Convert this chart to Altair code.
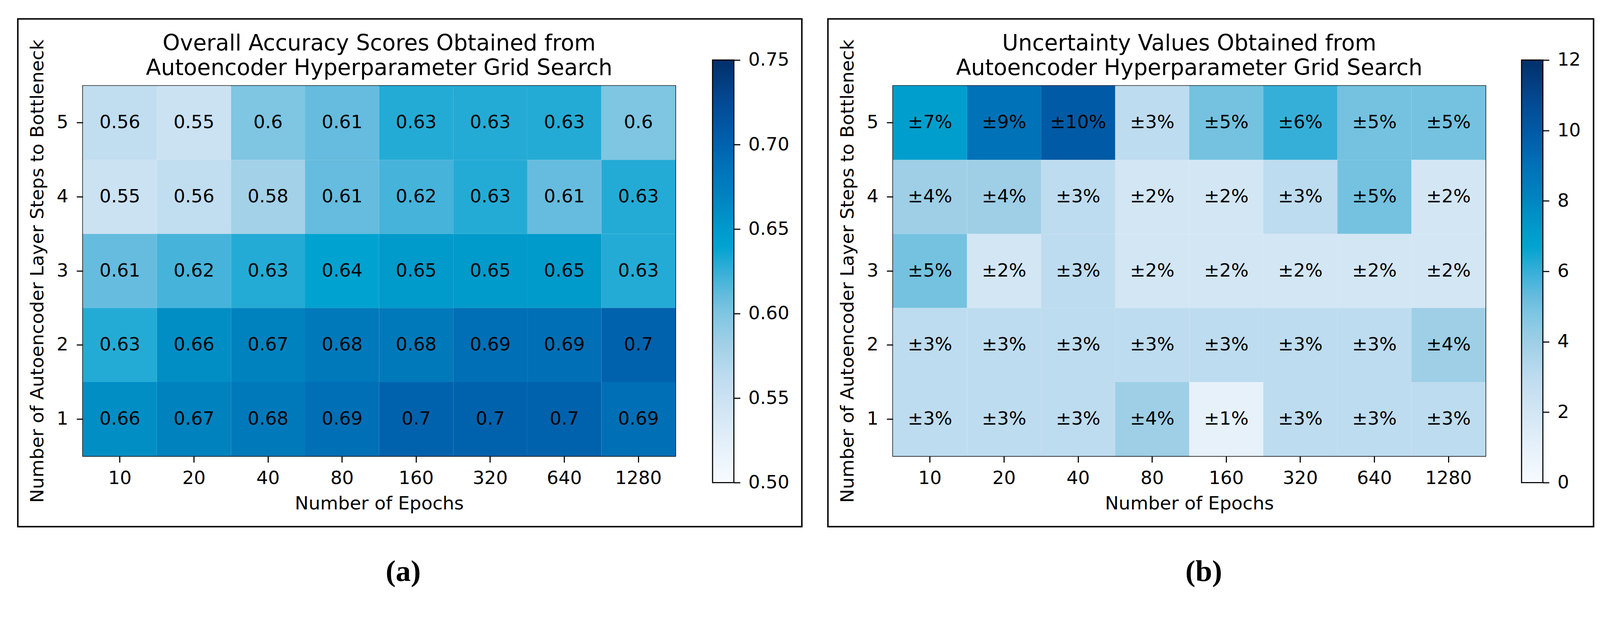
import altair as alt
import pandas as pd

# ---------------- data ----------------
epochs = ["10", "20", "40", "80", "160", "320", "640", "1280"]
layer_steps = ["5", "4", "3", "2", "1"]

acc_5 = [0.56, 0.55, 0.60, 0.61, 0.63, 0.63, 0.63, 0.60]
acc_4 = [0.55, 0.56, 0.58, 0.61, 0.62, 0.63, 0.61, 0.63]
acc_3 = [0.61, 0.62, 0.63, 0.64, 0.65, 0.65, 0.65, 0.63]
acc_2 = [0.63, 0.66, 0.67, 0.68, 0.68, 0.69, 0.69, 0.70]
acc_1 = [0.66, 0.67, 0.68, 0.69, 0.70, 0.70, 0.70, 0.69]

unc_5 = [7, 9, 10, 3, 5, 6, 5, 5]
unc_4 = [4, 4, 3, 2, 2, 3, 5, 2]
unc_3 = [5, 2, 3, 2, 2, 2, 2, 2]
unc_2 = [3, 3, 3, 3, 3, 3, 3, 4]
unc_1 = [3, 3, 3, 4, 1, 3, 3, 3]

acc_range = [0.50, 0.75]
acc_ticks = [0.50, 0.55, 0.60, 0.65, 0.70, 0.75]
unc_range = [0, 12]
unc_ticks = [0, 2, 4, 6, 8, 10, 12]

title_a = ["Overall Accuracy Scores Obtained from", "Autoencoder Hyperparameter Grid Search"]
title_b = ["Uncertainty Values Obtained from", "Autoencoder Hyperparameter Grid Search"]
x_title = "Number of Epochs"
y_title = "Number of Autoencoder Layer Steps to Bottleneck"

# colour map (style)
cmap_stops = [
    (0.0, "#f7fbff"), (0.083, "#e6f1fa"), (0.167, "#d3e6f4"), (0.25, "#bedcef"),
    (0.333, "#9ecfe6"), (0.4, "#7ec6e2"), (0.44, "#66bcde"), (0.5, "#36afd8"),
    (0.56, "#00a3d0"), (0.6, "#009acb"), (0.68, "#0082bf"), (0.75, "#0072b8"),
    (0.8, "#0062ad"), (0.9, "#034a94"), (1.0, "#02306a"),
]


def to_long(rows):
    recs = []
    for step, row in zip(layer_steps, rows):
        for e, v in zip(epochs, row):
            recs.append({"epoch": e, "steps": step, "value": v})
    return pd.DataFrame(recs)


acc_df = to_long([acc_5, acc_4, acc_3, acc_2, acc_1])
unc_df = to_long([unc_5, unc_4, unc_3, unc_2, unc_1])

W, H = 1613, 1008
FONT = "DejaVu Sans"


def panel(df, vrange, ticks, tick_fmt, label_expr, titles, cb_x, border_right, tag, tag_x):
    lo, hi = vrange
    dom = [lo + t * (hi - lo) for t, _ in cmap_stops]
    rng = [c for _, c in cmap_stops]
    base = alt.Chart(df).encode(
        x=alt.X("epoch:O", sort=epochs,
                scale=alt.Scale(paddingInner=0, paddingOuter=0),
                axis=alt.Axis(title=x_title, labelAngle=0, labelPadding=18, titlePadding=20)),
        y=alt.Y("steps:O", sort=layer_steps,
                scale=alt.Scale(paddingInner=0, paddingOuter=0),
                axis=alt.Axis(title=y_title, labelPadding=23, titlePadding=26)),
    )
    rect = base.mark_rect().encode(
        color=alt.Color("value:Q", scale=alt.Scale(domain=dom, range=rng, interpolate="rgb"), legend=None)
    )
    text = base.transform_calculate(label=label_expr).mark_text(
        font=FONT, fontSize=50, color="black", baseline="middle", align="center"
    ).encode(text="label:N")
    heat = alt.layer(rect, text)

    cb_w = 58
    cbdf = pd.DataFrame({"lo": [lo], "hi": [hi]})
    cb = alt.Chart(cbdf).mark_rect(
        fill=alt.Gradient(
            gradient="linear",
            stops=[alt.GradientStop(offset=t, color=c) for t, c in cmap_stops],
            x1=0, x2=0, y1=1, y2=0,
        ),
        stroke="black", strokeWidth=3,
    ).encode(
        x=alt.value(cb_x), x2=alt.value(cb_x + cb_w),
        y=alt.Y("lo:Q", scale=alt.Scale(domain=[lo, hi], range=[1080, -70], nice=False, zero=False),
                axis=alt.Axis(orient="right", offset=cb_x + cb_w - W, values=ticks, format=tick_fmt,
                              title=None, labelPadding=22)),
        y2="hi:Q",
    )

    border = alt.Chart(pd.DataFrame({"k": [0]})).mark_rect(
        fill="transparent", stroke="black", strokeWidth=4
    ).encode(x=alt.value(-177), x2=alt.value(border_right), y=alt.value(-182), y2=alt.value(1200))

    t1 = alt.Chart(pd.DataFrame({"t": [titles[0]]})).mark_text(
        font=FONT, fontSize=60, color="black", align="center", baseline="alphabetic"
    ).encode(text="t:N", x=alt.value(W / 2), y=alt.value(-96))
    t2 = alt.Chart(pd.DataFrame({"t": [titles[1]]})).mark_text(
        font=FONT, fontSize=60, color="black", align="center", baseline="alphabetic"
    ).encode(text="t:N", x=alt.value(W / 2), y=alt.value(-29))
    tg = alt.Chart(pd.DataFrame({"t": [tag]})).mark_text(
        font="Liberation Serif", fontWeight="bold", fontSize=82, color="black",
        align="center", baseline="alphabetic"
    ).encode(text="t:N", x=alt.value(tag_x), y=alt.value(1348))

    return alt.layer(heat, cb, border, t1, t2, tg).resolve_scale(y="independent").properties(width=W, height=H)


pa = panel(acc_df, acc_range, acc_ticks, ".2f", "format(datum.value, '.2~f')", title_a, 1714, 1957, "(a)", 872)
pb = panel(unc_df, unc_range, unc_ticks, "d", "'\u00b1' + datum.value + '%'", title_b, 1711, 1907, "(b)", 846)

chart = alt.hconcat(pa, pb, spacing=592, bounds="flush").resolve_scale(
    color="independent"
).properties(
    padding={"left": 36, "top": -10, "right": 5, "bottom": 5}
).configure_view(
    stroke="black", strokeWidth=3
).configure_axis(
    labelFont=FONT, labelFontSize=50, labelColor="black",
    titleFont=FONT, titleFontSize=50, titleFontWeight="normal", titleColor="black",
    tickColor="black", tickWidth=3, tickSize=17, domain=False, grid=False,
)

chart.save("out.html", embed_options={"renderer": "svg", "actions": False})
